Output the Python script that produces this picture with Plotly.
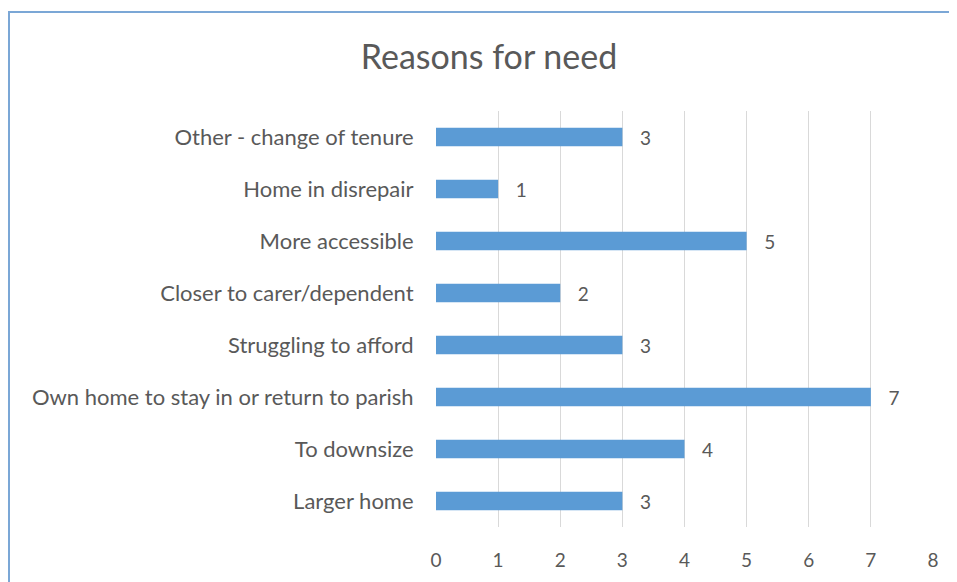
import plotly.graph_objects as go

categories = ["Other - change of tenure", "Home in disrepair", "More accessible",
              "Closer to carer/dependent", "Struggling to afford",
              "Own home to stay in or return to parish", "To downsize", "Larger home"]
values = [3, 1, 5, 2, 3, 7, 4, 3]
x_ticks = [0, 1, 2, 3, 4, 5, 6, 7, 8]

# the page adds an 8px body margin; coordinates below are figure pixels
W, H = 957, 582
L, R, T, B = 428, 32, 103, 63
pw, ph = W - L - R, H - T - B

def px_x(p):
    return (p - L) / pw

def px_y(p):
    return 1 - (p - T) / ph

labels = ["\u00a0\u00a0\u00a0" + str(v) for v in values]

fig = go.Figure(go.Bar(
    x=values, y=categories, orientation="h",
    marker=dict(color="#5B9BD5", line=dict(width=0)),
    text=labels, textposition="outside", cliponaxis=False,
    constraintext="none",
    textfont=dict(color="#595959", size=19),
    width=0.36,
))

fig.update_layout(
    width=W, height=H,
    margin=dict(l=L, r=R, t=T, b=B),
    paper_bgcolor="white", plot_bgcolor="white",
    font=dict(family="Lato, Open Sans, sans-serif", color="#595959"),
    title=dict(text="Reasons for need", xref="container", x=481 / W,
               yref="container", y=1 - 49 / H, yanchor="middle", xanchor="center",
               font=dict(size=34, color="#595959")),
    showlegend=False,
    shapes=[
        dict(type="line", xref="paper", yref="paper", x0=px_x(1), x1=px_x(1),
             y0=px_y(4), y1=px_y(600), line=dict(color="#7BA7D6", width=2)),
        dict(type="line", xref="paper", yref="paper", x0=px_x(0), x1=px_x(980),
             y0=px_y(4), y1=px_y(4), line=dict(color="#7BA7D6", width=2)),
    ],
)
fig.update_xaxes(range=[0, 8], tickvals=x_ticks, showgrid=True, gridcolor="#D9D9D9",
                 gridwidth=1, zeroline=False, showline=False,
                 tickfont=dict(size=19, color="#595959"),
                 ticks="outside", ticklen=16, tickcolor="rgba(0,0,0,0)")
fig.update_yaxes(categoryorder="array", categoryarray=categories[::-1],
                 showgrid=False, zeroline=False, showline=False,
                 tickfont=dict(size=22, color="#595959"),
                 ticks="outside", ticklen=17, tickcolor="rgba(0,0,0,0)")

fig.write_html("out.html")
